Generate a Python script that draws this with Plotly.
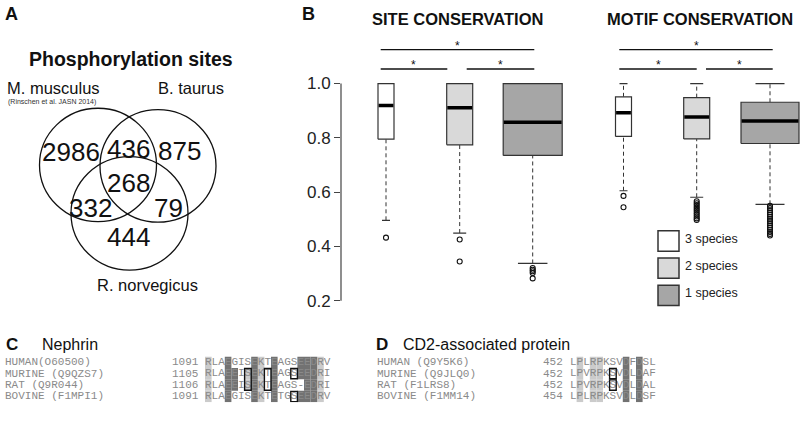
import plotly.graph_objects as go

W, H = 800, 422


def fx(x):
    return x / W


def fy(y):
    return 1 - y / H


# ---------------- DATA ----------------
venn_sets = ["M. musculus", "B. taurus", "R. norvegicus"]
venn_regions = ["M only", "M+B", "B only", "M+B+R", "M+R", "B+R", "R only"]
venn_counts = [2986, 436, 875, 268, 332, 79, 444]

group_names = ["3 species", "2 species", "1 species"]

site_q1 = [0.795, 0.774, 0.735]
site_median = [0.919, 0.911, 0.857]
site_q3 = [1.0, 1.0, 1.0]
site_lower = [0.496, 0.449, 0.337]
site_upper = [1.0, 1.0, 1.0]
site_outliers = [[0.432], [0.425, 0.344], [0.320, 0.314, 0.308, 0.302, 0.282]]

motif_q1 = [0.805, 0.796, 0.779]
motif_median = [0.892, 0.877, 0.862]
motif_q3 = [0.951, 0.948, 0.931]
motif_lower = [0.605, 0.581, 0.555]
motif_upper = [1.0, 1.0, 1.0]
motif_outliers = [
    [0.586, 0.544],
    [0.566, 0.559, 0.552, 0.545, 0.538, 0.531, 0.524, 0.517, 0.510, 0.503, 0.497],
    [0.549, 0.541, 0.533, 0.525, 0.517, 0.509, 0.501, 0.493, 0.485, 0.477,
     0.469, 0.461, 0.453, 0.446, 0.440],
]
sig_pairs = [(0, 2), (0, 1), (1, 2)]
sig_marks = ["*", "*", "*"]

y_ticks = [0.2, 0.4, 0.6, 0.8, 1.0]
y_ticktext = ["0.2", "0.4", "0.6", "0.8", "1.0"]

nephrin_species = ["HUMAN(O60500)", "MURINE (Q9QZS7)", "RAT (Q9R044)", "BOVINE (F1MPI1)"]
nephrin_start = [1091, 1105, 1106, 1091]
nephrin_seqs = ["RLAEGISEKTEAGSEEDRV", "RLAEEISEKTEAGSEEDRI",
                "RLAEEISEKTEAGS-EDRI", "RLAEGISEKTETGSEEDRV"]
nephrin_light = [[0, 8, 17], [0, 6, 8, 17], [0, 6, 8, 17], [0, 8, 17]]
nephrin_dark = [[3, 7, 10, 14, 15, 16], [3, 4, 7, 10, 14, 15, 16],
                [3, 4, 7, 10, 15, 16], [3, 7, 10, 14, 15, 16]]
nephrin_boxes = [(1, 2, 6), (1, 2, 9), (1, 1, 13), (3, 3, 13)]  # (row from, row to, col)

cd2ap_species = ["HUMAN (Q9Y5K6)", "MURINE (Q9JLQ0)", "RAT (F1LRS8)", "BOVINE (F1MM14)"]
cd2ap_start = [452, 452, 452, 454]
cd2ap_seqs = ["LPLRPKSVDFDSL", "LPVRPKSVDLDAF", "LPVRPKSVDLDAL", "LPLRPKSVDLDSF"]
cd2ap_light = [[1, 3, 4]] * 4
cd2ap_dark = [[8, 10]] * 4
cd2ap_boxes = [(1, 1, 6), (2, 2, 6)]

# ---------------- STYLE / LAYOUT ----------------
SANS = "Liberation Sans, Arial, sans-serif"
MONO = "Liberation Mono, Courier New, monospace"
BOX_FILLS = ["#ffffff", "#d9d9d9", "#a6a6a6"]
EDGE = "#333333"
LIGHT = "#cbcbcb"
DARK = "#727272"
SEQ_GREY = "#8a8a8a"

X_LEFT = 341          # pixel of the y axis of panel B
PX_PER_UNIT = 280     # pixels per 1.0 of conservation
Y0_PX = 304           # pixel of value 0.2


def vy(v):
    return Y0_PX - (v - 0.2) * PX_PER_UNIT


site_centers = [386, 459.7, 532.7]
site_widths = [16, 26, 59]
motif_centers = [623.5, 696.7, 770]
motif_widths = [16, 26, 58]

CW = 6.6
ROW0, ROWH = 367.5, 11.8
NEPH_X0 = 205
CD2_X0 = 570
SEQ_FS = 11

fig = go.Figure()


def add_boxes(q1, med, q3, lo, hi, outs, centers, widths):
    for i in range(len(q1)):
        c, w = centers[i], widths[i]
        l, r = c - w / 2, c + w / 2
        fig.add_trace(go.Scatter(x=[c, c], y=[lo[i], q1[i]], mode="lines",
                                 line=dict(color=EDGE, width=1, dash="4px,3px"),
                                 hoverinfo="skip", showlegend=False))
        fig.add_trace(go.Scatter(x=[c - w / 4, c + w / 4], y=[lo[i], lo[i]], mode="lines",
                                 line=dict(color=EDGE, width=1.2),
                                 hoverinfo="skip", showlegend=False))
        if hi[i] > q3[i]:
            fig.add_trace(go.Scatter(x=[c, c], y=[q3[i], hi[i]], mode="lines",
                                     line=dict(color=EDGE, width=1, dash="4px,3px"),
                                     hoverinfo="skip", showlegend=False))
            fig.add_trace(go.Scatter(x=[c - w / 4, c + w / 4], y=[hi[i], hi[i]], mode="lines",
                                     line=dict(color=EDGE, width=1.2),
                                     hoverinfo="skip", showlegend=False))
        fig.add_trace(go.Scatter(x=[l, r, r, l, l], y=[q1[i], q1[i], q3[i], q3[i], q1[i]],
                                 mode="lines", fill="toself", fillcolor=BOX_FILLS[i],
                                 line=dict(color=EDGE, width=1.2),
                                 hoverinfo="skip", showlegend=False))
        fig.add_trace(go.Scatter(x=[l + 0.6, r - 0.6], y=[med[i], med[i]], mode="lines",
                                 line=dict(color="#000000", width=3.5),
                                 hoverinfo="skip", showlegend=False))
        fig.add_trace(go.Scatter(x=[c] * len(outs[i]), y=outs[i], mode="markers",
                                 marker=dict(symbol="circle-open", size=5,
                                             color="#111111", line=dict(width=1.1)),
                                 hoverinfo="skip", showlegend=False))


add_boxes(site_q1, site_median, site_q3, site_lower, site_upper, site_outliers,
          site_centers, site_widths)
add_boxes(motif_q1, motif_median, motif_q3, motif_lower, motif_upper, motif_outliers,
          motif_centers, motif_widths)

shapes = []
annotations = []


def ann(text, x, y, size, bold=False, color="#111111", xanchor="left", family=SANS,
        xref="paper", yref="paper"):
    annotations.append(dict(
        text=f"<b>{text}</b>" if bold else text, x=x, y=y, xref=xref, yref=yref,
        xanchor=xanchor, yanchor="middle", showarrow=False,
        font=dict(family=family, size=size, color=color)))


# y axis line of panel B
shapes.append(dict(type="line", xref="paper", yref="y", x0=fx(X_LEFT), x1=fx(X_LEFT),
                   y0=y_ticks[0], y1=y_ticks[-1], line=dict(color="#444444", width=1.2)))

# significance bars
sig_spans = {
    "site": [(380.7, 534.3), (380.7, 447.3), (466.7, 534.3)],
    "motif": [(619.3, 772.7), (619.3, 696.7), (706.0, 772.7)],
}
sig_levels = [45, 65]
for key in sig_spans:
    for k, (a, b) in enumerate(sig_spans[key]):
        yy = sig_levels[0] if k == 0 else sig_levels[1]
        shapes.append(dict(type="line", xref="paper", yref="paper", x0=fx(a), x1=fx(b),
                           y0=fy(yy), y1=fy(yy), line=dict(color="#111111", width=1.3)))
        ann(sig_marks[k], fx((a + b) / 2), fy(yy - 4), 12, xanchor="center")

# panel B titles
ann("SITE CONSERVATION", fx(457), fy(13), 16.5, bold=True, xanchor="center")
ann("MOTIF CONSERVATION", fx(700), fy(13), 16.5, bold=True, xanchor="center")

# legend of panel B
leg_x0, leg_x1 = 658, 679
leg_tops = [232, 260, 288]
for i, g in enumerate(group_names):
    shapes.append(dict(type="rect", xref="paper", yref="paper",
                       x0=fx(leg_x0), x1=fx(leg_x1), y0=fy(leg_tops[i]), y1=fy(leg_tops[i] + 21),
                       fillcolor=BOX_FILLS[i], line=dict(color=EDGE, width=1.5)))
    ann(g, fx(683), fy(leg_tops[i] + 8), 12.5, color="#222222")

# ---------------- Panel A: Venn ----------------
venn_circles = [(98, 164, 58.5), (158, 165, 58), (129.5, 214, 58.5)]
for cx, cy, r in venn_circles:
    shapes.append(dict(type="circle", xref="x2", yref="y2", x0=cx - r, x1=cx + r,
                       y0=cy - r, y1=cy + r, line=dict(color="#111111", width=1.3)))
venn_pos = [(71, 151), (128, 148), (179, 150), (128, 183), (90, 208), (168, 208), (128, 238)]
for n, (x, y) in zip(venn_counts, venn_pos):
    ann(str(n), x, y, 26, xanchor="center", xref="x2", yref="y2")

ann("Phosphorylation sites", fx(131), fy(55), 19.5, bold=True, xanchor="center")
ann(venn_sets[0], fx(5), fy(85), 16.5)
ann("(Rinschen et al. JASN 2014)", fx(6), fy(99), 7, color="#333333")
ann(venn_sets[1], fx(191), fy(85), 16.5, xanchor="center")
ann(venn_sets[2], fx(147), fy(288), 16.5, xanchor="center")

# panel letters
ann("A", fx(3), fy(8), 18, bold=True)
ann("B", fx(300), fy(8), 18, bold=True)
ann("C", fx(4), fy(349), 17, bold=True)
ann("D", fx(374), fy(349), 17, bold=True)
ann("Nephrin", fx(40), fy(349.5), 16)
ann("CD2-associated protein", fx(401), fy(349.5), 16)

# ---------------- Panels C and D: alignments ----------------


def add_alignment(species, starts, seqs, light, dark, boxes, xaxis, name_x, num_x):
    for r in range(len(seqs)):
        ypx = ROW0 + r * ROWH
        ann(species[r], fx(name_x), fy(ypx), SEQ_FS, color=SEQ_GREY, family=MONO)
        ann(str(starts[r]), fx(num_x), fy(ypx), SEQ_FS, color=SEQ_GREY, family=MONO)
        for cols, colr in ((light[r], LIGHT), (dark[r], DARK)):
            for c in cols:
                shapes.append(dict(type="rect", xref=xaxis, yref="y3", layer="below",
                                   x0=c - 0.5, x1=c + 0.5, y0=r - 0.5, y1=r + 0.5,
                                   fillcolor=colr, line=dict(width=0)))
        xs = list(range(len(seqs[r])))
        fig.add_trace(go.Scatter(x=xs, y=[r] * len(xs), text=list(seqs[r]), mode="text",
                                 textposition="middle center",
                                 textfont=dict(family=MONO, size=SEQ_FS, color=SEQ_GREY),
                                 xaxis=xaxis, yaxis="y3", hoverinfo="skip",
                                 showlegend=False, cliponaxis=False))
    for r0, r1, c in boxes:
        shapes.append(dict(type="rect", xref=xaxis, yref="y3", x0=c - 0.5, x1=c + 0.5,
                           y0=r0 - 0.45, y1=r1 + 0.45, line=dict(color="#111111", width=1.4),
                           fillcolor="rgba(0,0,0,0)"))


add_alignment(nephrin_species, nephrin_start, nephrin_seqs, nephrin_light, nephrin_dark,
              nephrin_boxes, "x3", 3, 170)
add_alignment(cd2ap_species, cd2ap_start, cd2ap_seqs, cd2ap_light, cd2ap_dark,
              cd2ap_boxes, "x4", 375, 541)

n_neph = len(nephrin_seqs[0])
n_cd2 = len(cd2ap_seqs[0])
y3_dom = [fy(ROW0 + 3.5 * ROWH), fy(ROW0 - 0.5 * ROWH)]

hidden = dict(visible=False, fixedrange=True, showgrid=False, zeroline=False)
fig.update_layout(
    width=W, height=H, margin=dict(l=0, r=0, t=0, b=0),
    paper_bgcolor="white", plot_bgcolor="rgba(0,0,0,0)",
    showlegend=False,
    xaxis=dict(domain=[fx(X_LEFT), 1], range=[X_LEFT, W], **hidden),
    yaxis=dict(domain=[fy(vy(0.19)), fy(vy(1.01))], range=[0.19, 1.01], anchor="x",
               tickvals=y_ticks, ticktext=y_ticktext, ticks="outside", ticklen=6,
               tickcolor="#444444", tickwidth=1.2, showgrid=False, zeroline=False,
               showline=False, fixedrange=True,
               tickfont=dict(family=SANS, size=17, color="#222222")),
    xaxis2=dict(domain=[0, fx(300)], range=[0, 300], anchor="y2", **hidden),
    yaxis2=dict(domain=[0, 1], range=[H, 0], anchor="x2", **hidden),
    xaxis3=dict(domain=[fx(NEPH_X0), fx(NEPH_X0 + n_neph * CW)], range=[-0.5, n_neph - 0.5],
                anchor="y3", **hidden),
    xaxis4=dict(domain=[fx(CD2_X0), fx(CD2_X0 + n_cd2 * CW)], range=[-0.5, n_cd2 - 0.5],
                anchor="y3", **hidden),
    yaxis3=dict(domain=y3_dom, range=[3.5, -0.5], anchor="x3", **hidden),
    shapes=shapes, annotations=annotations,
)

fig.write_html("out.html", config={"displayModeBar": False})

# remove the browser's default page margin so the figure sits at (0, 0)
with open("out.html", encoding="utf-8") as f:
    page = f.read()
page = page.replace("<body>", '<body style="margin:0;padding:0;overflow:hidden">', 1)
with open("out.html", "w", encoding="utf-8") as f:
    f.write(page)
